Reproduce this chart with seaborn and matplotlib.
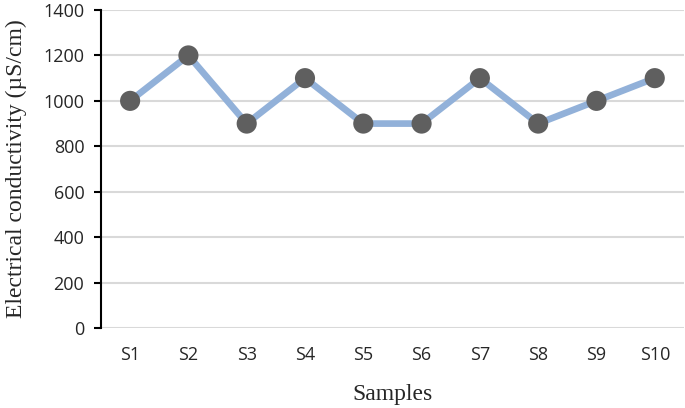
import matplotlib
matplotlib.use("Agg")
import matplotlib.pyplot as plt
import seaborn as sns
import pandas as pd

# --- data ---
samples = ["S1", "S2", "S3", "S4", "S5", "S6", "S7", "S8", "S9", "S10"]
conductivity = [1000, 1200, 900, 1100, 900, 900, 1100, 900, 1000, 1100]
y_ticks = [0, 200, 400, 600, 800, 1000, 1200, 1400]

df = pd.DataFrame({"Samples": samples, "EC": conductivity})

sns.set_style("white")
plt.rcParams["font.family"] = ["Open Sans", "DejaVu Sans"]

fig = plt.figure(figsize=(6.85, 4.08), dpi=100)
ax = fig.add_axes([0.1474, 0.196, 0.851, 0.7795])

sns.lineplot(data=df, x="Samples", y="EC", ax=ax, color="#92B1D9", linewidth=4.8,
             sort=False, zorder=2)
sns.scatterplot(data=df, x="Samples", y="EC", ax=ax, color="#5F5F5F", s=210,
                edgecolor="none", zorder=3)

ax.set_xlim(-0.5, len(samples) - 0.5)
ax.set_ylim(0, 1400)
ax.set_yticks(y_ticks)
ax.yaxis.grid(True, color="#D9D9D9", linewidth=1.5)
ax.set_axisbelow(True)

for side in ["top", "right", "bottom"]:
    ax.spines[side].set_visible(False)
ax.spines["left"].set_color("black")
ax.spines["left"].set_linewidth(1.5)

ax.tick_params(axis="y", length=5, width=1.5, color="black", labelsize=13, pad=7,
               direction="out", left=True)
ax.tick_params(axis="x", length=0, labelsize=13, pad=13)

ax.set_xlabel("Samples", fontsize=17, family=["Liberation Serif"], labelpad=14)
ax.set_ylabel("Electrical conductivity (µS/cm)", fontsize=17,
              family=["Liberation Serif"], labelpad=12)

plt.savefig("out.png", dpi=100)
